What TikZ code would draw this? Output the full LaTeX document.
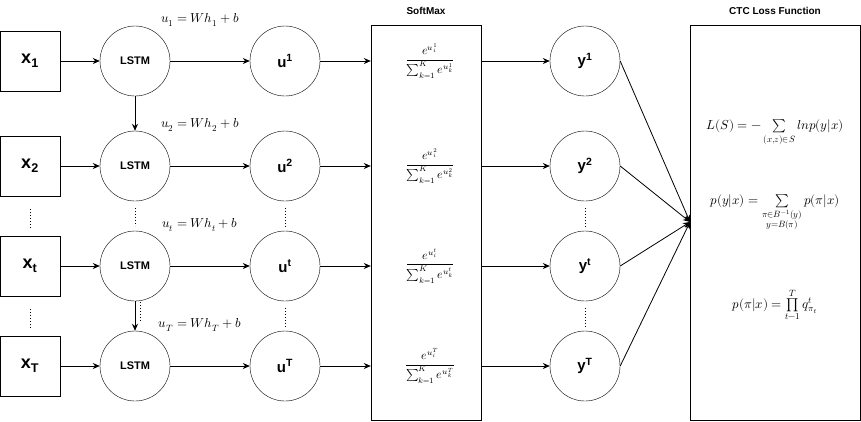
\documentclass[tikz,border=0pt]{standalone}
\usetikzlibrary{arrows.meta}
\usepackage{amsmath}
\usepackage{fontspec}
\setmainfont{Liberation Sans}
\usepackage{unicode-math}
\setmathfont{Latin Modern Math}
\begin{document}
\begin{tikzpicture}[x=1pt,y=-1pt,
  box/.style={draw,minimum width=60pt,minimum height=60pt,font=\fontsize{18}{20}\selectfont\bfseries},
  circ/.style={draw,circle,minimum size=70pt,inner sep=0pt},
  lstm/.style={circ,font=\fontsize{11}{13}\selectfont\bfseries},
  uc/.style={circ,font=\fontsize{15}{17}\selectfont\bfseries},
  arr/.style={-{Stealth[length=7pt,width=6pt]},line width=0.8pt},
  dots/.style={dotted,line width=1pt},
  frm/.style={font=\fontsize{12}{14}\selectfont},
  eqn/.style={font=\fontsize{13}{15}\selectfont},
  ttl/.style={font=\fontsize{10}{12}\selectfont\bfseries}]
\useasboundingbox (0,0) rectangle (861,421);
\foreach \i/\y/\s in {1/61/1,2/166/2,3/266/t,4/366/T}{
  \node[box] (x\i) at (30,\y) {x$_{\mathbf{\s}}$};
  \node[lstm] (l\i) at (135,\y) {LSTM};
  \node[uc] (u\i) at (285,\y) {u$^{\mathbf{\s}}$};
  \node[uc] (y\i) at (585,\y) {y$^{\mathbf{\s}}$};
  \node[frm] (f\i) at (430,\y) {$\dfrac{e^{u_i^{\s}}}{\sum_{k=1}^{K} e^{u_k^{\s}}}$};
  \node[eqn] (e\i) at (200,\y-41) {$u_{\s}=Wh_{\s}+b$};
}
\node[draw,minimum width=110pt,minimum height=395pt] (sm) at (426,222.5) {};
\node[draw,minimum width=170pt,minimum height=395pt] (ctc) at (775,222.5) {};
\node[ttl] (smt) at (426,11) {SoftMax};
\node[ttl] (ctct) at (775,11) {CTC Loss Function};
\coordinate (c) at (690,222);
\foreach \i/\y in {1/61,2/166,3/266,4/366}{
  \draw[arr] (x\i) -- (l\i);
  \draw[arr] (l\i) -- (u\i);
  \draw[arr] (u\i.east) -- (sm.west |- u\i);
  \draw[arr] (sm.east |- y\i) -- (y\i.west);
  \draw[arr] (y\i.east) -- (c);
}
\draw[arr] (l1) -- (l2);
\draw[arr] (l3) -- (l4);
\draw[dots] (30,209) -- (30,228);
\draw[dots] (30,309) -- (30,328);
\draw[dots] (135,208) -- (135,226);
\draw[dots] (140,302) -- (140,322);
\draw[dots] (285,208) -- (285,228);
\draw[dots] (285,308) -- (285,328);
\draw[dots] (585,208) -- (585,228);
\draw[dots] (585,308) -- (585,328);
\node[eqn] (eq1) at (775,133) {$L(S)=-\sum\limits_{(x,z)\in S} lnp(y|x)$};
\node[eqn] (eq2) at (775,213) {$p(y|x)=\sum\limits_{\substack{\pi\in B^{-1}(y)\\ y=B(\pi)}} p(\pi|x)$};
\node[eqn] (eq3) at (775,305) {$p(\pi|x)=\prod\limits_{t-1}^{T} q^t_{\pi_t}$};
\end{tikzpicture}
\end{document}
